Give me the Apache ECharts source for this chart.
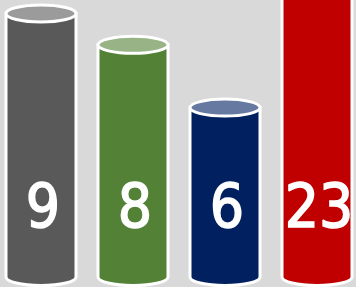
<!DOCTYPE html>
<html>
<head>
<meta charset="utf-8">
<script src="https://cdn.jsdelivr.net/npm/echarts@6/dist/echarts.min.js"></script>
<style>
	html,body{margin:0;padding:0;background:#d9d9d9;}
	#main{width:356px;height:287px;}
</style>
</head>
<body>
<div id="main"></div>
<script>
var categories = [0,1,2,3];
var values = [9,8,6,23];
var colors = ['#595959','#538135','#002060','#c00000'];
var topColors = ['#9b9b9b','#98b386','#6679a0','#d96666'];
var yMin = 0.6, yMax = 9.43;

var myChart = echarts.init(document.getElementById('main'));

//画圆柱：主体 + 顶部椭圆 + 数字
function renderItem(params,api){
	var i = api.value(0);
	var v = api.value(1);
	var top = api.coord([i,v]);
	var base = api.coord([i,yMin]);
	var w = 70, rx = w/2, ry = 8.5;
	var x = top[0];
	var body = 'M'+(x-rx)+' '+top[1]
		+' L'+(x-rx)+' '+base[1]
		+' A'+rx+' '+ry+' 0 0 0 '+(x+rx)+' '+base[1]
		+' L'+(x+rx)+' '+top[1]+' Z';
	return {
		type:'group',
		children:[
			{
				type:'path',
				shape:{pathData:body},
				style:{fill:colors[i],stroke:'#fff',lineWidth:3}
			},
			{
				type:'ellipse',
				shape:{cx:x,cy:top[1],rx:rx,ry:ry},
				style:{fill:topColors[i],stroke:'#fff',lineWidth:3}
			},
			{
				type:'text',
				style:{
					text:String(v),x:x+2,y:base[1]-66,
					fill:'#fff',stroke:'#fff',lineWidth:1.5,
					align:'center',verticalAlign:'middle',
					font:'60px "DejaVu Sans Condensed",sans-serif'
				}
			}
		]
	};
}

var option = {
	backgroundColor:'#d9d9d9',
	animation:false,
	grid:{left:0,right:0,top:0,bottom:10},
	xAxis:{type:'value',min:-0.4457,max:3.4239,show:false},
	yAxis:{type:'value',min:yMin,max:yMax,show:false},
	series:[{
		type:'custom',
		renderItem:renderItem,
		clip:false,
		data:categories.map(function(c,i){return [c,values[i]];})
	}]
};
myChart.setOption(option);
</script>
</body>
</html>
